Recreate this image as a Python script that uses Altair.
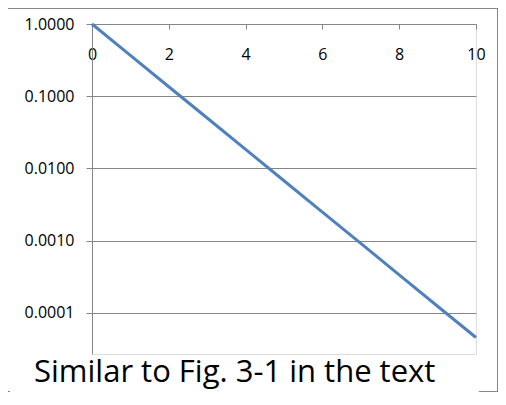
import altair as alt
import pandas as pd

# data
x_vals = [0, 1, 2, 3, 4, 5, 6, 7, 8, 9, 10]
y_vals = [1.0, 0.368, 0.135, 0.0498, 0.0183, 0.00674, 0.00248, 0.000912,
          0.000335, 0.000123, 0.0000454]
x_ticks = [0, 2, 4, 6, 8, 10]
y_ticks = [1.0, 0.1, 0.01, 0.001, 0.0001]
title_text = "Similar to Fig. 3-1 in the text"

df = pd.DataFrame({"x": x_vals, "y": y_vals})

GRAY = "#868686"
FONT = "Open Sans"
W, H = 384, 330

line = alt.Chart(df).mark_line(color="#4F81BD", strokeWidth=3).encode(
    x=alt.X(
        "x:Q",
        scale=alt.Scale(domain=[0, 10], nice=False, zero=False),
        axis=alt.Axis(
            orient="bottom", offset=-H, values=x_ticks, format="d", title=None,
            grid=False, domainColor=GRAY, tickColor=GRAY, tickSize=5,
            labelPadding=17, labelFont=FONT, labelFontSize=16,
            labelColor="black", labelAlign="center", labelBaseline="top",
            labelFlush=False, labelOverlap=False,
        ),
    ),
    y=alt.Y(
        "y:Q",
        scale=alt.Scale(type="log", domain=[0.0000268, 1], nice=False),
        axis=alt.Axis(
            values=y_ticks, format=".4f", title=None, grid=True,
            gridColor=GRAY, domainColor=GRAY, tickColor=GRAY, tickSize=6,
            labelPadding=12, labelFont=FONT, labelFontSize=16,
            labelColor="black", labelFlush=False, labelOverlap=False,
        ),
    ),
)

one = pd.DataFrame({"a": [0]})
frame_top = alt.Chart(one).mark_rule(color=GRAY, strokeWidth=1).encode(
    x=alt.value(-84), x2=alt.value(406), y=alt.value(-15.5))
frame_right = alt.Chart(one).mark_rule(color=GRAY, strokeWidth=1).encode(
    x=alt.value(405.5), y=alt.value(-15.5), y2=alt.value(367.5))
frame_bl = alt.Chart(one).mark_rule(color=GRAY, strokeWidth=1).encode(
    x=alt.value(-84), x2=alt.value(-82), y=alt.value(367.5))
frame_br = alt.Chart(one).mark_rule(color=GRAY, strokeWidth=1).encode(
    x=alt.value(387), x2=alt.value(406), y=alt.value(367.5))

chart = alt.layer(frame_top, frame_right, frame_bl, frame_br, line).properties(
    width=W,
    height=H,
    padding={"left": 84, "top": 16, "right": 22, "bottom": 38},
    autosize=alt.AutoSizeParams(type="none"),
    title=alt.TitleParams(
        text=title_text, orient="bottom", anchor="start", frame="group",
        dx=-58, offset=-10, baseline="alphabetic", font=FONT, fontSize=31,
        fontWeight="normal", color="black",
    ),
).configure_view(strokeWidth=0).configure(background="white")

chart.save("out.html", embed_options={"renderer": "svg", "actions": False})
